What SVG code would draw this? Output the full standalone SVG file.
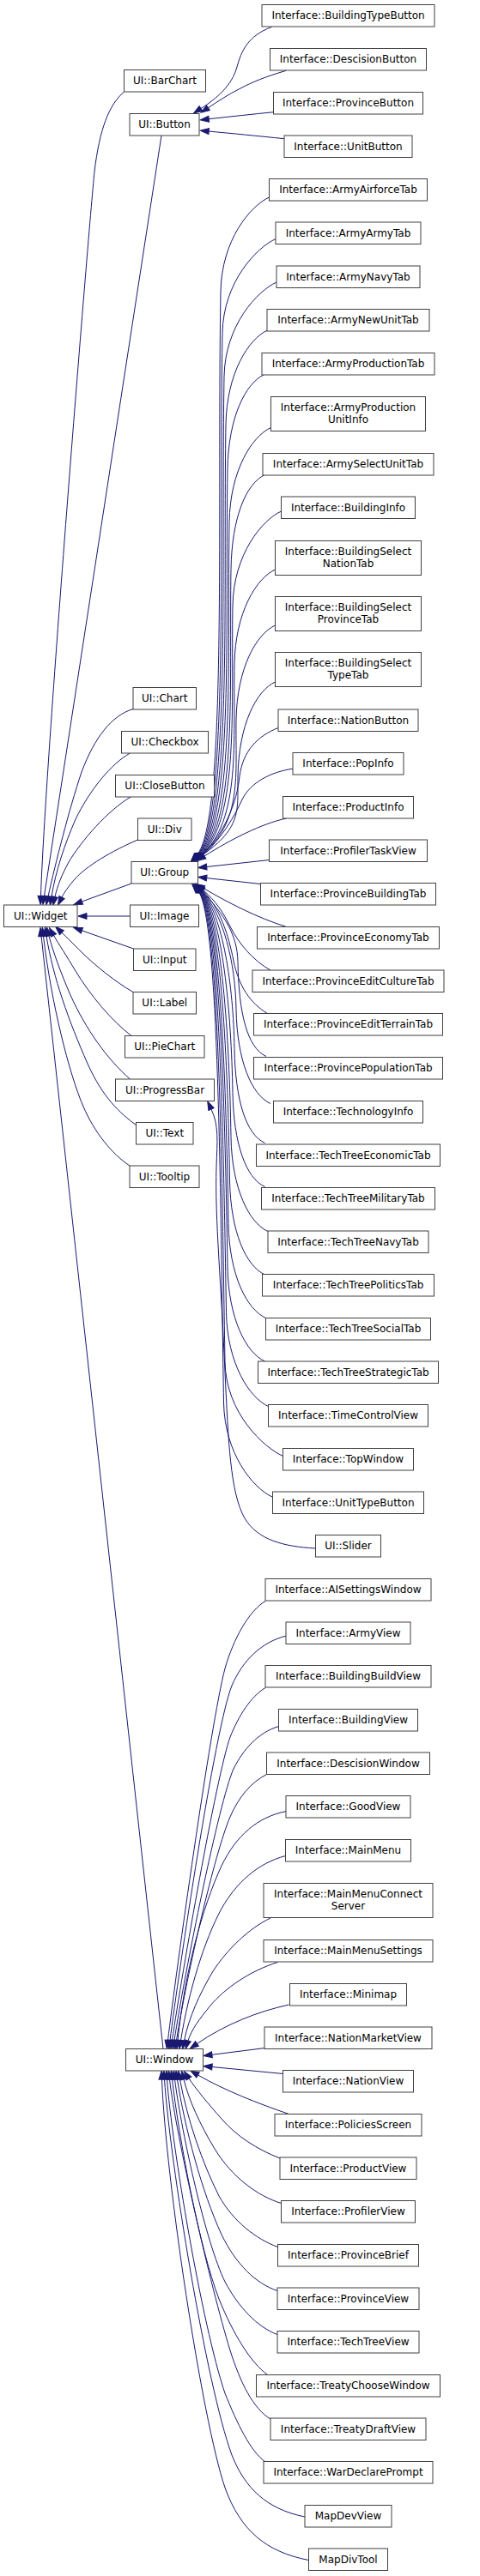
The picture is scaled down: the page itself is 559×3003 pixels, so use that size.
<svg xmlns="http://www.w3.org/2000/svg" width="559" height="3003" viewBox="0 0 559 3003">
<style>
.node rect{fill:#fff;stroke:#404040;stroke-width:1}
.node text{font-family:"DejaVu Sans","Liberation Sans",sans-serif;font-size:12px;text-anchor:middle;fill:#000}
.e{fill:none;stroke:#191970;stroke-width:1;marker-end:url(#arr)}
</style>
<defs>
<marker id="arr" markerUnits="userSpaceOnUse" viewBox="0 -5 12 10" refX="0" refY="0" markerWidth="12" markerHeight="10" orient="auto" overflow="visible">
<path d="M0,-3.5 L10,0 L0,3.5 Z" fill="#191970" stroke="#191970" stroke-width="1"/>
</marker>
</defs>
<rect width="559" height="3003" fill="#fff"/>
<g id="edges">
<path class="e" d="M316.7,31.3 C288,42 281,60 276,78 C270,100 252,115 234,126.5"/>
<path class="e" d="M333.3,82.3 C310,89 293,96 280,103 C266,110 254,118 242.5,125.7"/>
<path class="e" d="M318.5,130.7 C295,133 268,136 243.2,138.7"/>
<path class="e" d="M331,161.7 C300,158.5 270,155.5 243.2,153.1"/>
<path class="e" d="M144.5,107 C127,122 116,150 110,200 C103,270 52,900 47.5,1044.5"/>
<path class="e" d="M188,158 L51.5,1044.6"/>
<path class="e" d="M155,826.5 C130,834 110,860 95,900 C80,945 65,1005 56,1045"/>
<path class="e" d="M151.5,878 C130,890 105,920 88,955 C75,985 65,1015 60,1045.3"/>
<path class="e" d="M153,928.5 C125,945 95,980 80,1005 C72,1020 67,1032 64,1045.5"/>
<path class="e" d="M160.5,979 C130,992 100,1010 87,1025 C80,1033 75,1040 72,1046"/>
<path class="e" d="M153,1030 L95.4,1051"/>
<path class="e" d="M151.5,1068 L101,1068"/>
<path class="e" d="M155.5,1106 L95.4,1084.8"/>
<path class="e" d="M155,1156.5 C135,1145 110,1125 95,1110 C85,1100 78,1093 71.9,1087.2"/>
<path class="e" d="M153,1207.5 C130,1190 105,1160 88,1132 C78,1115 68,1100 62.5,1090.4"/>
<path class="e" d="M151.5,1258 C125,1235 100,1200 82,1160 C70,1132 62,1110 57,1091"/>
<path class="e" d="M158.5,1311.5 C140,1298 120,1280 102,1240 C80,1190 62,1140 54,1091"/>
<path class="e" d="M151,1359 C130,1345 110,1320 97,1290 C80,1250 60,1170 50.5,1091.5"/>
<path class="e" d="M190,2388.5 L48.1,1091.4"/>
<path class="e" d="M313.5,230 C291.5,240 258,280 257,340 C252.6,602.8 265,958 229,997"/>
<path class="e" d="M321,278.5 C299,288.5 260,328.5 259,388.5 C254.9,631.9 267,958 229.6,997"/>
<path class="e" d="M322,329 C300,339 262,379 261,439 C257.3,662.2 269,958 230.2,997"/>
<path class="e" d="M311.5,385 C289.5,395 264,435 263,495 C259.7,695.8 271,958 230.8,997"/>
<path class="e" d="M308,436.5 C286,446.5 266,486.5 265,546.5 C262,726.7 273,958 231.4,997"/>
<path class="e" d="M315.5,498.5 C293.5,508.5 268,548.5 267,608.5 C264.4,763.9 275,958 232,997"/>
<path class="e" d="M308.5,553.5 C286.5,563.5 270,603.5 269,663.5 C266.8,796.9 277,958 232.6,997"/>
<path class="e" d="M327.5,596 C305.5,606 272,646 271,706 C269.1,822.4 279,958 233.2,997"/>
<path class="e" d="M320.5,664 C298.5,674 274,714 273,774 C271.5,863.2 281,958 233.8,997"/>
<path class="e" d="M320.5,729 C298.5,739 276,779 275,839 C274,902.2 283,958 234.4,997"/>
<path class="e" d="M320.5,795 C298.5,805 278,845 277,905 C276.4,941.8 283,965 235,997"/>
<path class="e" d="M324,848.5 C300,858 283,875 279,905 C276,935 262,970 235.6,997"/>
<path class="e" d="M341.5,896 C315,900 292,912 282,932 C274,950 258,978 236.2,997"/>
<path class="e" d="M333.5,954 C305,960 268,979 238,998"/>
<path class="e" d="M313.5,1002.5 L240.7,1010.5"/>
<path class="e" d="M303.5,1030.5 L240.7,1023.6"/>
<path class="e" d="M333.5,1080.5 C300,1070 265,1052 237,1035.5"/>
<path class="e" d="M315,1131 C295,1120 278,1100 268,1080 C260,1064 252,1051 236.5,1037.5"/>
<path class="e" d="M311.5,1181.5 C292,1170 278,1150 272,1120 C266,1090 256,1058 236,1038"/>
<path class="e" d="M310,1231.5 C288,1221.5 278,1181.5 277,1121.5 C276.4,1088.3 260.5,1066.5 235.5,1038.5"/>
<path class="e" d="M315,1286.5 C293,1276.5 276,1236.5 275,1176.5 C274.1,1121.3 260,1066.5 235,1038.5"/>
<path class="e" d="M308.5,1332.5 C286.5,1322.5 274,1282.5 273,1222.5 C271.8,1148.9 259.5,1066.5 234.5,1038.5"/>
<path class="e" d="M308.5,1383.5 C286.5,1373.5 272,1333.5 271,1273.5 C269.4,1179.5 259,1066.5 234,1038.5"/>
<path class="e" d="M312,1435.5 C290,1425.5 270,1385.5 269,1325.5 C267.1,1210.7 258.5,1066.5 233.5,1038.5"/>
<path class="e" d="M308.5,1486 C286.5,1476 268.5,1436 267.5,1376 C265.3,1241 258,1066.5 233,1038.5"/>
<path class="e" d="M309.5,1536.5 C287.5,1526.5 267,1486.5 266,1426.5 C263.4,1271.3 257.5,1066.5 232.5,1038.5"/>
<path class="e" d="M308.5,1587 C286.5,1577 266,1537 265,1477 C262.1,1301.6 257,1066.5 232,1038.5"/>
<path class="e" d="M312.5,1639.5 C290.5,1629.5 264.5,1589.5 263.5,1529.5 C260.2,1333.1 256.5,1066.5 231.5,1038.5"/>
<path class="e" d="M329.5,1697.5 C307.5,1687.5 263,1647.5 262,1587.5 C258.3,1367.9 256,1066.5 231,1038.5"/>
<path class="e" d="M317,1745 C295,1735 261.5,1695 260.5,1635 C256.5,1396.4 255.5,1066.5 230.5,1038.5"/>
<path class="e" d="M367.5,1805 C330,1803 300,1795 285,1770 C268,1740 266,1680 262,1600 C258,1500 250,1420 252,1360 C253,1330 255,1312 246,1293"/>
<path class="e" d="M309,1866.5 C290,1878 272,1910 262,1945 C245,2010 205,2300 195.5,2378.5"/>
<path class="e" d="M333.5,1907 C305,1914 283,1935 270,1965 C250,2015 208,2300 198,2378.5"/>
<path class="e" d="M309,1967.5 C292,1978 278,2000 268,2025 C252,2070 212,2300 200.5,2378.5"/>
<path class="e" d="M324.5,2012.5 C300,2020 283,2040 272,2062 C255,2100 215,2300 203,2378.5"/>
<path class="e" d="M310.5,2068.5 C292,2078 278,2095 268,2118 C250,2160 218,2300 205.5,2378.5"/>
<path class="e" d="M333.5,2111.5 C300,2118 275,2140 258,2175 C235,2225 215,2300 207,2378.5"/>
<path class="e" d="M332.5,2163.5 C300,2172 275,2195 258,2225 C238,2262 220,2320 210.5,2378.5"/>
<path class="e" d="M315,2236 C290,2248 265,2272 248,2298 C232,2325 220,2352 214.5,2379"/>
<path class="e" d="M323.5,2287.5 C290,2298 262,2318 245,2338 C232,2354 223,2366 219,2379"/>
<path class="e" d="M336.5,2337 C300,2345 262,2360 229.5,2382.5"/>
<path class="e" d="M308.5,2387.5 L246.9,2395.3"/>
<path class="e" d="M329.5,2417.5 L247,2409.5"/>
<path class="e" d="M336.5,2464.5 C300,2452 262,2437 230.5,2419"/>
<path class="e" d="M326,2516 C300,2506 275,2490 258,2470 C242,2452 228,2435 220,2423"/>
<path class="e" d="M327.5,2568.5 C300,2560 270,2538 250,2505 C232,2475 220,2448 214,2424"/>
<path class="e" d="M323.5,2619.5 C298,2610 272,2590 255,2560 C235,2520 218,2470 209.5,2424"/>
<path class="e" d="M323,2670.5 C298,2662 275,2640 258,2605 C235,2555 215,2480 206.5,2424"/>
<path class="e" d="M323,2721.5 C300,2713 278,2690 262,2660 C240,2615 212,2490 203.5,2424"/>
<path class="e" d="M311.5,2768.5 C292,2754 272,2722 255,2680 C232,2620 208,2490 200.5,2424"/>
<path class="e" d="M315,2820 C295,2808 280,2778 268,2740 C245,2665 205,2490 197.5,2424"/>
<path class="e" d="M308.5,2869.5 C292,2858 276,2825 262,2790 C235,2710 200,2500 194.5,2424"/>
<path class="e" d="M355,2934 C310,2925 285,2900 270,2862 C240,2780 198,2520 191.5,2424"/>
<path class="e" d="M359.5,2984.5 C310,2975 280,2950 262,2900 C235,2820 193,2540 188.5,2424"/>
</g>
<g id="n_BarChart" class="node" transform="translate(144.5,81.5)"><rect width="95" height="25.5"/><text x="47.5" y="16.8">UI::BarChart</text></g>
<g id="n_Button" class="node" transform="translate(151,132.5)"><rect width="81" height="25.5"/><text x="40.5" y="16.8">UI::Button</text></g>
<g id="n_Chart" class="node" transform="translate(155,801.5)"><rect width="73.5" height="25.5"/><text x="36.75" y="16.8">UI::Chart</text></g>
<g id="n_Checkbox" class="node" transform="translate(141.5,852.5)"><rect width="101" height="25.5"/><text x="50.5" y="16.8">UI::Checkbox</text></g>
<g id="n_CloseButton" class="node" transform="translate(134.5,903.5)"><rect width="115" height="25.5"/><text x="57.5" y="16.8">UI::CloseButton</text></g>
<g id="n_Div" class="node" transform="translate(160.5,954)"><rect width="62.5" height="25.5"/><text x="31.25" y="16.8">UI::Div</text></g>
<g id="n_Group" class="node" transform="translate(153,1004.5)"><rect width="77.5" height="25.5"/><text x="38.75" y="16.8">UI::Group</text></g>
<g id="n_Widget" class="node" transform="translate(4.5,1055)"><rect width="85.5" height="25.5"/><text x="42.75" y="16.8">UI::Widget</text></g>
<g id="n_Image" class="node" transform="translate(151.5,1055)"><rect width="80" height="25.5"/><text x="40" y="16.8">UI::Image</text></g>
<g id="n_Input" class="node" transform="translate(155.5,1106)"><rect width="72.5" height="25.5"/><text x="36.25" y="16.8">UI::Input</text></g>
<g id="n_Label" class="node" transform="translate(155,1156.5)"><rect width="73.5" height="25.5"/><text x="36.75" y="16.8">UI::Label</text></g>
<g id="n_PieChart" class="node" transform="translate(145.5,1207.5)"><rect width="92.5" height="25.5"/><text x="46.25" y="16.8">UI::PieChart</text></g>
<g id="n_ProgressBar" class="node" transform="translate(134.5,1258)"><rect width="115" height="25.5"/><text x="57.5" y="16.8">UI::ProgressBar</text></g>
<g id="n_Text" class="node" transform="translate(158.5,1308.5)"><rect width="66.5" height="25.5"/><text x="33.25" y="16.8">UI::Text</text></g>
<g id="n_Tooltip" class="node" transform="translate(151,1359)"><rect width="81" height="25.5"/><text x="40.5" y="16.8">UI::Tooltip</text></g>
<g id="n_Window" class="node" transform="translate(146.5,2388.5)"><rect width="90" height="25.5"/><text x="45" y="16.8">UI::Window</text></g>
<g id="n_BuildingTypeButton" class="node" transform="translate(305,5.5)"><rect width="201" height="25.5"/><text x="100.5" y="16.8">Interface::BuildingTypeButton</text></g>
<g id="n_DescisionButton" class="node" transform="translate(314.5,56.5)"><rect width="182" height="25.5"/><text x="91" y="16.8">Interface::DescisionButton</text></g>
<g id="n_ProvinceButton" class="node" transform="translate(318.5,107.5)"><rect width="174" height="25.5"/><text x="87" y="16.8">Interface::ProvinceButton</text></g>
<g id="n_UnitButton" class="node" transform="translate(331,158)"><rect width="149" height="25.5"/><text x="74.5" y="16.8">Interface::UnitButton</text></g>
<g id="n_ArmyAirforceTab" class="node" transform="translate(313.5,208.5)"><rect width="184" height="25.5"/><text x="92" y="16.8">Interface::ArmyAirforceTab</text></g>
<g id="n_ArmyArmyTab" class="node" transform="translate(321,259)"><rect width="169" height="25.5"/><text x="84.5" y="16.8">Interface::ArmyArmyTab</text></g>
<g id="n_ArmyNavyTab" class="node" transform="translate(322,310)"><rect width="167" height="25.5"/><text x="83.5" y="16.8">Interface::ArmyNavyTab</text></g>
<g id="n_ArmyNewUnitTab" class="node" transform="translate(311,360.5)"><rect width="189" height="25.5"/><text x="94.5" y="16.8">Interface::ArmyNewUnitTab</text></g>
<g id="n_ArmyProductionTab" class="node" transform="translate(305,411.5)"><rect width="201" height="25.5"/><text x="100.5" y="16.8">Interface::ArmyProductionTab</text></g>
<g id="n_ArmyProductionUnitInfo" class="node" transform="translate(315.5,462.5)"><rect width="180" height="40"/><text x="90" y="16.4">Interface::ArmyProduction</text><text x="90" y="30.4">UnitInfo</text></g>
<g id="n_ArmySelectUnitTab" class="node" transform="translate(306,528.5)"><rect width="199" height="25.5"/><text x="99.5" y="16.8">Interface::ArmySelectUnitTab</text></g>
<g id="n_BuildingInfo" class="node" transform="translate(327.5,579)"><rect width="156" height="25.5"/><text x="78" y="16.8">Interface::BuildingInfo</text></g>
<g id="n_BuildingSelectNationTab" class="node" transform="translate(320.5,630.5)"><rect width="170" height="40"/><text x="85" y="16.4">Interface::BuildingSelect</text><text x="85" y="30.4">NationTab</text></g>
<g id="n_BuildingSelectProvinceTab" class="node" transform="translate(320.5,695.5)"><rect width="170" height="40"/><text x="85" y="16.4">Interface::BuildingSelect</text><text x="85" y="30.4">ProvinceTab</text></g>
<g id="n_BuildingSelectTypeTab" class="node" transform="translate(320.5,760.5)"><rect width="170" height="40"/><text x="85" y="16.4">Interface::BuildingSelect</text><text x="85" y="30.4">TypeTab</text></g>
<g id="n_NationButton" class="node" transform="translate(324,827)"><rect width="163" height="25.5"/><text x="81.5" y="16.8">Interface::NationButton</text></g>
<g id="n_PopInfo" class="node" transform="translate(341,877.5)"><rect width="129" height="25.5"/><text x="64.5" y="16.8">Interface::PopInfo</text></g>
<g id="n_ProductInfo" class="node" transform="translate(329.5,928.5)"><rect width="152" height="25.5"/><text x="76" y="16.8">Interface::ProductInfo</text></g>
<g id="n_ProfilerTaskView" class="node" transform="translate(313.5,979)"><rect width="184" height="25.5"/><text x="92" y="16.8">Interface::ProfilerTaskView</text></g>
<g id="n_ProvinceBuildingTab" class="node" transform="translate(303.5,1029.5)"><rect width="204" height="25.5"/><text x="102" y="16.8">Interface::ProvinceBuildingTab</text></g>
<g id="n_ProvinceEconomyTab" class="node" transform="translate(299.5,1080.5)"><rect width="212" height="25.5"/><text x="106" y="16.8">Interface::ProvinceEconomyTab</text></g>
<g id="n_ProvinceEditCultureTab" class="node" transform="translate(294,1131)"><rect width="223" height="25.5"/><text x="111.5" y="16.8">Interface::ProvinceEditCultureTab</text></g>
<g id="n_ProvinceEditTerrainTab" class="node" transform="translate(295.5,1181.5)"><rect width="220" height="25.5"/><text x="110" y="16.8">Interface::ProvinceEditTerrainTab</text></g>
<g id="n_ProvincePopulationTab" class="node" transform="translate(295.5,1232.5)"><rect width="220" height="25.5"/><text x="110" y="16.8">Interface::ProvincePopulationTab</text></g>
<g id="n_TechnologyInfo" class="node" transform="translate(318.5,1283.5)"><rect width="174" height="25.5"/><text x="87" y="16.8">Interface::TechnologyInfo</text></g>
<g id="n_TechTreeEconomicTab" class="node" transform="translate(298.5,1334)"><rect width="214" height="25.5"/><text x="107" y="16.8">Interface::TechTreeEconomicTab</text></g>
<g id="n_TechTreeMilitaryTab" class="node" transform="translate(304.5,1384.5)"><rect width="202" height="25.5"/><text x="101" y="16.8">Interface::TechTreeMilitaryTab</text></g>
<g id="n_TechTreeNavyTab" class="node" transform="translate(312,1435)"><rect width="187" height="25.5"/><text x="93.5" y="16.8">Interface::TechTreeNavyTab</text></g>
<g id="n_TechTreePoliticsTab" class="node" transform="translate(305.5,1485.5)"><rect width="200" height="25.5"/><text x="100" y="16.8">Interface::TechTreePoliticsTab</text></g>
<g id="n_TechTreeSocialTab" class="node" transform="translate(309.5,1536.5)"><rect width="192" height="25.5"/><text x="96" y="16.8">Interface::TechTreeSocialTab</text></g>
<g id="n_TechTreeStrategicTab" class="node" transform="translate(300.5,1587)"><rect width="210" height="25.5"/><text x="105" y="16.8">Interface::TechTreeStrategicTab</text></g>
<g id="n_TimeControlView" class="node" transform="translate(312.5,1637.5)"><rect width="186" height="25.5"/><text x="93" y="16.8">Interface::TimeControlView</text></g>
<g id="n_TopWindow" class="node" transform="translate(329.5,1688.5)"><rect width="152" height="25.5"/><text x="76" y="16.8">Interface::TopWindow</text></g>
<g id="n_UnitTypeButton" class="node" transform="translate(317.5,1739)"><rect width="176" height="25.5"/><text x="88" y="16.8">Interface::UnitTypeButton</text></g>
<g id="n_Slider" class="node" transform="translate(367.5,1789.5)"><rect width="76" height="25.5"/><text x="38" y="16.8">UI::Slider</text></g>
<g id="n_AISettingsWindow" class="node" transform="translate(309,1840.5)"><rect width="193" height="25.5"/><text x="96.5" y="16.8">Interface::AISettingsWindow</text></g>
<g id="n_ArmyView" class="node" transform="translate(333,1891)"><rect width="145" height="25.5"/><text x="72.5" y="16.8">Interface::ArmyView</text></g>
<g id="n_BuildingBuildView" class="node" transform="translate(309,1941.5)"><rect width="193" height="25.5"/><text x="96.5" y="16.8">Interface::BuildingBuildView</text></g>
<g id="n_BuildingView" class="node" transform="translate(324.5,1992.5)"><rect width="162" height="25.5"/><text x="81" y="16.8">Interface::BuildingView</text></g>
<g id="n_DescisionWindow" class="node" transform="translate(310.5,2043)"><rect width="190" height="25.5"/><text x="95" y="16.8">Interface::DescisionWindow</text></g>
<g id="n_GoodView" class="node" transform="translate(333,2093.5)"><rect width="145" height="25.5"/><text x="72.5" y="16.8">Interface::GoodView</text></g>
<g id="n_MainMenu" class="node" transform="translate(332.5,2144.5)"><rect width="146" height="25.5"/><text x="73" y="16.8">Interface::MainMenu</text></g>
<g id="n_MainMenuConnectServer" class="node" transform="translate(307,2195.5)"><rect width="197" height="40"/><text x="98.5" y="16.4">Interface::MainMenuConnect</text><text x="98.5" y="30.4">Server</text></g>
<g id="n_MainMenuSettings" class="node" transform="translate(307,2261.5)"><rect width="197" height="25.5"/><text x="98.5" y="16.8">Interface::MainMenuSettings</text></g>
<g id="n_Minimap" class="node" transform="translate(337.5,2312.5)"><rect width="136" height="25.5"/><text x="68" y="16.8">Interface::Minimap</text></g>
<g id="n_NationMarketView" class="node" transform="translate(308,2363)"><rect width="195" height="25.5"/><text x="97.5" y="16.8">Interface::NationMarketView</text></g>
<g id="n_NationView" class="node" transform="translate(329.5,2413.5)"><rect width="152" height="25.5"/><text x="76" y="16.8">Interface::NationView</text></g>
<g id="n_PoliciesScreen" class="node" transform="translate(320,2464.5)"><rect width="171" height="25.5"/><text x="85.5" y="16.8">Interface::PoliciesScreen</text></g>
<g id="n_ProductView" class="node" transform="translate(326,2515)"><rect width="159" height="25.5"/><text x="79.5" y="16.8">Interface::ProductView</text></g>
<g id="n_ProfilerView" class="node" transform="translate(327.5,2565.5)"><rect width="156" height="25.5"/><text x="78" y="16.8">Interface::ProfilerView</text></g>
<g id="n_ProvinceBrief" class="node" transform="translate(323.5,2616.5)"><rect width="164" height="25.5"/><text x="82" y="16.8">Interface::ProvinceBrief</text></g>
<g id="n_ProvinceView" class="node" transform="translate(323,2667)"><rect width="165" height="25.5"/><text x="82.5" y="16.8">Interface::ProvinceView</text></g>
<g id="n_TechTreeView" class="node" transform="translate(323,2717.5)"><rect width="165" height="25.5"/><text x="82.5" y="16.8">Interface::TechTreeView</text></g>
<g id="n_TreatyChooseWindow" class="node" transform="translate(298.5,2768.5)"><rect width="214" height="25.5"/><text x="107" y="16.8">Interface::TreatyChooseWindow</text></g>
<g id="n_TreatyDraftView" class="node" transform="translate(315,2819)"><rect width="181" height="25.5"/><text x="90.5" y="16.8">Interface::TreatyDraftView</text></g>
<g id="n_WarDeclarePrompt" class="node" transform="translate(307,2869.5)"><rect width="197" height="25.5"/><text x="98.5" y="16.8">Interface::WarDeclarePrompt</text></g>
<g id="n_MapDevView" class="node" transform="translate(355,2920.5)"><rect width="101" height="25.5"/><text x="50.5" y="16.8">MapDevView</text></g>
<g id="n_MapDivTool" class="node" transform="translate(359.5,2971)"><rect width="92" height="25.5"/><text x="46" y="16.8">MapDivTool</text></g>
</svg>
